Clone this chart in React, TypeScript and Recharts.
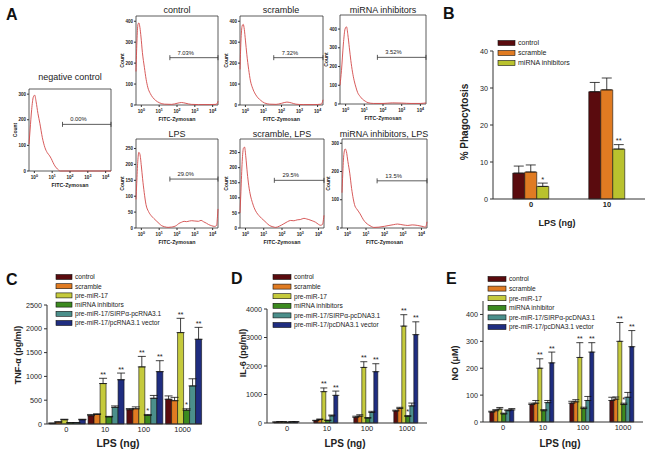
import React from "react";
import {
  LineChart,
  Line,
  XAxis,
  YAxis,
  ReferenceArea,
  ReferenceLine,
  BarChart,
  Bar,
  ErrorBar,
  LabelList,
} from "recharts";

const FONT = "'Liberation Sans', Arial, Helvetica, sans-serif";
const INK = "#222";
const AXIS = "#333";

// ---------- A: flow histograms, points are [log10 FITC-Zymosan, count] ----------
const logTicks = [0, 1, 2, 3, 4];
const logDomain = [-0.3, 4.3];

const negControlPts = [
  [-0.3, 105], [-0.24, 160], [-0.15, 240], [-0.06, 288], [0.02, 296], [0.1, 270],
  [0.2, 225], [0.31, 186], [0.45, 130], [0.59, 92], [0.72, 72], [0.86, 59],
  [0.95, 48], [1.05, 33], [1.15, 20], [1.24, 12], [1.35, 4], [1.45, 0], [2, 0],
  [3, 0], [4.3, 0],
];
const controlPts = [
  [-0.3, 160], [-0.25, 300], [-0.19, 385], [-0.14, 392], [-0.08, 370], [-0.02, 325],
  [0.06, 250], [0.17, 180], [0.27, 122], [0.36, 85], [0.5, 55], [0.64, 36], [0.8, 22],
  [1.0, 11], [1.3, 4], [1.7, 3], [2.0, 8], [2.25, 12], [2.5, 8], [2.8, 3], [3.2, 2],
  [3.8, 2], [4.2, 3], [4.27, 10], [4.3, 18],
];
const scramblePts = [
  [-0.3, 170], [-0.25, 300], [-0.18, 378], [-0.12, 385], [-0.06, 360], [0.0, 310],
  [0.08, 240], [0.18, 170], [0.28, 115], [0.4, 80], [0.55, 52], [0.7, 34], [0.85, 22],
  [1.05, 10], [1.35, 4], [1.7, 3], [2.0, 8], [2.3, 14], [2.55, 10], [2.8, 4], [3.2, 2],
  [3.8, 2], [4.2, 4], [4.27, 15], [4.3, 25],
];
const inhibitorPts = [
  [-0.3, 100], [-0.22, 180], [-0.12, 320], [-0.03, 400], [0.05, 412], [0.12, 370],
  [0.2, 300], [0.28, 232], [0.37, 170], [0.46, 124], [0.55, 90], [0.64, 62], [0.78, 40],
  [0.9, 26], [1.05, 15], [1.2, 7], [1.5, 3], [2.0, 3], [2.5, 6], [3.0, 5], [3.5, 3],
  [4.0, 3], [4.3, 6],
];
const lpsPts = [
  [-0.3, 90], [-0.26, 140], [-0.2, 210], [-0.14, 238], [-0.08, 232], [0.0, 195],
  [0.07, 155], [0.16, 112], [0.26, 74], [0.4, 52], [0.55, 39], [0.7, 30], [0.83, 23],
  [1.0, 14], [1.12, 8], [1.3, 4], [1.5, 2], [1.7, 3], [1.97, 8], [2.1, 14], [2.25, 18],
  [2.4, 21], [2.53, 20], [2.7, 22], [2.82, 23], [3.0, 22], [3.2, 21], [3.35, 24],
  [3.48, 20], [3.65, 15], [3.77, 11], [3.95, 7], [4.1, 5], [4.22, 8], [4.27, 35], [4.3, 60],
];
const scrambleLpsPts = [
  [-0.3, 50], [-0.25, 120], [-0.18, 220], [-0.11, 265], [-0.05, 268], [0.02, 235],
  [0.1, 182], [0.18, 140], [0.28, 106], [0.38, 84], [0.47, 68], [0.6, 52], [0.74, 41],
  [0.88, 32], [1.01, 25], [1.15, 17], [1.3, 9], [1.5, 4], [1.66, 2], [1.85, 6], [2.1, 14],
  [2.3, 21], [2.47, 25], [2.65, 24], [2.83, 27], [3.0, 28], [3.2, 32], [3.35, 30],
  [3.47, 28], [3.65, 24], [3.84, 19], [4.0, 12], [4.1, 9], [4.22, 12], [4.27, 28], [4.3, 42],
];
const inhibitorLpsPts = [
  [-0.3, 125], [-0.26, 190], [-0.2, 260], [-0.13, 280], [-0.06, 270], [0.02, 235],
  [0.12, 194], [0.22, 140], [0.31, 103], [0.4, 78], [0.49, 68], [0.58, 60], [0.68, 50],
  [0.78, 38], [0.86, 29], [1.0, 18], [1.14, 11], [1.3, 5], [1.42, 2], [1.7, 3], [2.0, 6],
  [2.24, 9], [2.5, 12], [2.7, 14], [3.0, 11], [3.26, 9], [3.5, 11], [3.8, 9], [4.1, 5],
  [4.22, 3], [4.27, 12], [4.3, 22],
];

// gate: [start (log10), count level, percentage]
const gateNeg = [1.58, 182, "0.00%"];
const gateControl = [1.6, 226, "7.03%"];
const gateScramble = [1.57, 226, "7.32%"];
const gateInhibitor = [1.7, 249, "3.52%"];
const gateLps = [1.6, 154, "29.0%"];
const gateScrambleLps = [1.58, 158, "29.5%"];
const gateInhibitorLps = [1.6, 167, "13.5%"];

// ---------- B: phagocytosis ----------
const phagoDoses = ["0", "10"];
const phagoNames = ["control", "scramble", "miRNA inhibitors"];
const phagoColors = ["#5a0b0e", "#e07b22", "#b9c22e"];
const phagoMean = [
  [7.0, 29.0],
  [7.3, 29.5],
  [3.4, 13.5],
];
const phagoErr = [
  [1.9, 2.5],
  [1.9, 3.2],
  [0.9, 1.2],
];
const phagoStars = [
  ["", ""],
  ["", ""],
  ["*", "**"],
];

// ---------- C-E: cytokines ----------
const lpsDoses = ["0", "10", "100", "1000"];
const sixColors = ["#5a0b0e", "#e07b22", "#c5ca3c", "#3c8a1f", "#4b8f8b", "#1f2d80"];
const namesC = [
  "control",
  "scramble",
  "pre-miR-17",
  "miRNA inhibitors",
  "pre-miR-17/SIRPα-pcRNA3.1",
  "pre-miR-17/pcRNA3.1 vector",
];
const namesD = [
  "control",
  "scramble",
  "pre-miR-17",
  "miRNA inhibitors",
  "pre-miR-17/SIRPα-pcDNA3.1",
  "pre-miR-17/pcDNA3.1 vector",
];
const namesE = [
  "control",
  "scramble",
  "pre-miR-17",
  "miRNA inhibitor",
  "pre-miR-17/SIRPα-pcDNA3.1",
  "pre-miR-17/pcDNA3.1 vector",
];

const tnfMean = [
  [15, 175, 300, 520],
  [40, 200, 320, 490],
  [90, 850, 1200, 1920],
  [25, 150, 180, 290],
  [25, 350, 540, 800],
  [90, 930, 1100, 1780],
];
const tnfErr = [
  [5, 25, 25, 70],
  [8, 15, 40, 70],
  [10, 110, 220, 300],
  [5, 10, 20, 30],
  [5, 30, 60, 150],
  [10, 140, 230, 250],
];
const tnfStars = [
  ["", "", "", ""],
  ["", "", "", ""],
  ["", "**", "**", "**"],
  ["", "", "*", "*"],
  ["", "", "", ""],
  ["", "**", "**", "**"],
];

const il6Mean = [
  [30, 80, 200, 420],
  [40, 120, 240, 510],
  [40, 1100, 1950, 3400],
  [20, 90, 170, 230],
  [40, 250, 370, 600],
  [40, 970, 1800, 3100],
];
const il6Err = [
  [5, 15, 40, 30],
  [5, 20, 50, 40],
  [5, 130, 200, 400],
  [5, 10, 20, 30],
  [5, 30, 40, 100],
  [5, 150, 280, 450],
];
const il6Stars = [
  ["", "", "", ""],
  ["", "", "", ""],
  ["", "**", "**", "**"],
  ["", "", "", "*"],
  ["", "", "", ""],
  ["", "**", "**", "**"],
];

const noMean = [
  [37, 65, 70, 80],
  [42, 70, 75, 85],
  [48, 200, 240, 300],
  [30, 42, 50, 65],
  [42, 72, 80, 92],
  [45, 220, 260, 280],
];
const noErr = [
  [3, 5, 7, 12],
  [4, 10, 8, 8],
  [6, 35, 55, 70],
  [3, 4, 5, 5],
  [3, 8, 15, 18],
  [5, 40, 35, 60],
];
const noStars = [
  ["", "", "", ""],
  ["", "", "", ""],
  ["", "**", "**", "**"],
  ["", "", "", "*"],
  ["", "", "", ""],
  ["", "**", "**", "**"],
];

// ---------- histogram pieces ----------
const LogTick = (props: any) => {
  const { x, y, payload } = props;
  return (
    <text x={x} y={y + 5} textAnchor="middle" fontSize={4.6} fontWeight={700} fill={INK} fontFamily={FONT}>
      10
      <tspan dy={-2.2} fontSize={3.6}>
        {payload.value}
      </tspan>
    </text>
  );
};

const GateMark = (p: any) => {
  const { x1, y1, x2, text } = p;
  return (
    <g>
      <line x1={x1} y1={y1} x2={x2} y2={y1} stroke={AXIS} strokeWidth={0.8} />
      <line x1={x1} y1={y1 - 2.5} x2={x1} y2={y1 + 2.5} stroke={AXIS} strokeWidth={0.8} />
      <line x1={x2} y1={y1 - 2.5} x2={x2} y2={y1 + 2.5} stroke={AXIS} strokeWidth={0.8} />
      <text x={x1 + (x2 - x1) * 0.33} y={y1 - 3} textAnchor="middle" fontSize={5.8} fill={INK} fontFamily={FONT}>
        {text}
      </text>
    </g>
  );
};

function Histogram({ pts, box, yMax, yTicks, gate }: any) {
  const data = pts.map(([x, y]: number[]) => ({ x, y }));
  const yw = 22;
  const pad = 3;
  const xh = 20;
  const W = yw + box.w + pad;
  const H = pad + box.h + xh;
  return (
    <div style={{ position: "absolute", left: box.left - yw, top: box.top - pad }}>
      <LineChart width={W} height={H} data={data} margin={{ top: pad, right: pad, bottom: 0, left: 0 }}>
        <XAxis
          type="number"
          dataKey="x"
          domain={logDomain}
          ticks={logTicks}
          axisLine={false}
          tickSize={2}
          tickMargin={1}
          stroke={AXIS}
          height={xh}
          tick={<LogTick />}
          label={{
            content: () => (
              <text x={yw + box.w / 2} y={pad + box.h + 16} textAnchor="middle" fontSize={5.3} fontWeight={700} fill={INK} fontFamily={FONT}>
                FITC-Zymosan
              </text>
            ),
          }}
        />
        <YAxis
          type="number"
          domain={[0, yMax]}
          ticks={yTicks}
          axisLine={false}
          tickSize={2}
          tickMargin={1}
          stroke={AXIS}
          width={yw}
          tick={{ fontSize: 4.5, fontWeight: 700, fill: INK, fontFamily: FONT }}
          label={{
            content: () => {
              const cx = 10;
              const cy = pad + box.h / 2;
              return (
                <text x={cx} y={cy} transform={`rotate(-90 ${cx} ${cy})`} textAnchor="middle" fontSize={5} fontWeight={700} fill={INK} fontFamily={FONT}>
                  Count
                </text>
              );
            },
          }}
        />
        <ReferenceArea x1={logDomain[0]} x2={logDomain[1]} y1={0} y2={yMax} fill="none" fillOpacity={0} stroke={AXIS} strokeWidth={0.8} ifOverflow="visible" />
        <Line type="monotone" dataKey="y" stroke="#d24848" strokeWidth={0.9} dot={false} isAnimationActive={false} />
        <ReferenceLine
          segment={[
            { x: gate[0], y: gate[1] },
            { x: logDomain[1], y: gate[1] },
          ]}
          ifOverflow="visible"
          shape={(p: any) => <GateMark {...p} text={gate[2]} />}
        />
      </LineChart>
    </div>
  );
}

// ---------- bar panel pieces ----------
function buildRows(doses: string[], means: number[][], errs: number[][], stars: string[][]) {
  return doses.map((dose, i) => {
    const row: any = { dose };
    means.forEach((m, s) => {
      row[`m${s}`] = m[i];
      row[`e${s}`] = [0, errs[s][i]];
      row[`t${s}`] = stars[s][i];
    });
    return row;
  });
}

const starLabel = (means: number[], errs: number[]) => (p: any) => {
  if (!p.value) return null;
  const vb = p.viewBox && p.viewBox.width != null ? p.viewBox : p;
  const i = p.index;
  const h = Math.abs(vb.height);
  const top = Math.min(vb.y, vb.y + vb.height);
  const errPx = (errs[i] / means[i]) * h;
  return (
    <text x={vb.x + vb.width / 2} y={top - errPx - 1.5} textAnchor="middle" fontSize={7.5} fill={INK} fontFamily={FONT}>
      {p.value}
    </text>
  );
};

function BarPanel(props: any) {
  const {
    pos, yAxisW, xAxisH, marginTop, doses, means, errs, stars, colors,
    yMax, yTicks, catGap, cap, xBold, yTitle, xTitle,
  } = props;
  const rows = buildRows(doses, means, errs, stars);
  return (
    <div style={{ position: "absolute", left: pos.left, top: pos.top }}>
      <BarChart
        width={pos.w}
        height={pos.h}
        data={rows}
        margin={{ top: marginTop, right: pos.right, bottom: 0, left: 0 }}
        barCategoryGap={catGap}
        barGap={0}
      >
        <XAxis
          dataKey="dose"
          tickLine={false}
          tickSize={2}
          tickMargin={1}
          stroke={AXIS}
          height={xAxisH}
          tick={{ fontSize: 7.5, fontWeight: xBold ? 700 : 400, fill: INK, fontFamily: FONT }}
          label={{
            content: () => (
              <text x={xTitle.x} y={xTitle.y} textAnchor="middle" fontSize={xTitle.size} fontWeight={700} fill={INK} fontFamily={FONT}>
                {xTitle.text}
              </text>
            ),
          }}
        />
        <YAxis
          type="number"
          domain={[0, yMax]}
          ticks={yTicks}
          tickSize={3}
          tickMargin={2}
          stroke={AXIS}
          width={yAxisW}
          tick={{ fontSize: 7.2, fill: INK, fontFamily: FONT }}
          label={{
            content: () => (
              <text x={yTitle.x} y={yTitle.y} transform={`rotate(-90 ${yTitle.x} ${yTitle.y})`} textAnchor="middle" fontSize={yTitle.size} fontWeight={700} fill={INK} fontFamily={FONT}>
                {yTitle.text}
              </text>
            ),
          }}
        />
        {means.map((m: number[], s: number) => (
          <Bar key={s} dataKey={`m${s}`} fill={colors[s]} stroke="#111" strokeWidth={0.6} isAnimationActive={false}>
            <ErrorBar dataKey={`e${s}`} width={cap} stroke="#111" strokeWidth={0.8} direction="y" isAnimationActive={false} />
            <LabelList dataKey={`t${s}`} content={starLabel(m, errs[s])} />
          </Bar>
        ))}
      </BarChart>
    </div>
  );
}

function Legend({ x, textX, y0, step, sw, names, colors, size }: any) {
  return (
    <g>
      {names.map((n: string, i: number) => (
        <g key={n}>
          <rect x={x} y={y0 + i * step - 2.5} width={sw} height={5} fill={colors[i]} stroke="#111" strokeWidth={0.6} />
          <text x={textX} y={y0 + i * step + 2.4} fontSize={size} fill={INK} fontFamily={FONT}>
            {n}
          </text>
        </g>
      ))}
    </g>
  );
}

const Letter = ({ x, y, c }: any) => (
  <text x={x} y={y} fontSize={16} fontWeight={700} fill="#111" fontFamily={FONT}>
    {c}
  </text>
);

const Title = ({ x, y, t }: any) => (
  <text x={x} y={y} textAnchor="middle" fontSize={9} fill={INK} fontFamily={FONT}>
    {t}
  </text>
);

export default function App() {
  const r1 = 16;
  const r2 = 139;
  return (
    <div style={{ position: "absolute", left: 0, top: 0, width: 651, height: 451, background: "#fff", overflow: "hidden" }}>
      <Histogram pts={negControlPts} box={{ left: 29, top: 89, w: 82, h: 82 }} yMax={320} yTicks={[0, 100, 200, 300]} gate={gateNeg} />
      <Histogram pts={controlPts} box={{ left: 136, top: r1, w: 82, h: 89 }} yMax={425} yTicks={[0, 100, 200, 300, 400]} gate={gateControl} />
      <Histogram pts={scramblePts} box={{ left: 240, top: r1, w: 83, h: 89 }} yMax={425} yTicks={[0, 100, 200, 300, 400]} gate={gateScramble} />
      <Histogram pts={inhibitorPts} box={{ left: 340, top: r1 - 1, w: 86, h: 89 }} yMax={475} yTicks={[0, 100, 200, 300, 400]} gate={gateInhibitor} />
      <Histogram pts={lpsPts} box={{ left: 136, top: r2, w: 82, h: 89 }} yMax={280} yTicks={[0, 50, 100, 150, 200, 250]} gate={gateLps} />
      <Histogram pts={scrambleLpsPts} box={{ left: 240, top: r2, w: 84, h: 89 }} yMax={295} yTicks={[0, 50, 100, 150, 200, 250]} gate={gateScrambleLps} />
      <Histogram pts={inhibitorLpsPts} box={{ left: 342, top: r2, w: 85, h: 89 }} yMax={315} yTicks={[0, 100, 200, 300]} gate={gateInhibitorLps} />

      <BarPanel
        pos={{ left: 448, top: 40, w: 201, h: 189, right: 4 }}
        yAxisW={45}
        xAxisH={30}
        marginTop={11}
        doses={phagoDoses}
        means={phagoMean}
        errs={phagoErr}
        stars={phagoStars}
        colors={phagoColors}
        yMax={40}
        yTicks={[0, 10, 20, 30, 40]}
        catGap="26%"
        cap={5}
        xBold
        yTitle={{ text: "% Phagocytosis", x: 20, y: 82, size: 10 }}
        xTitle={{ text: "LPS (ng)", x: 109, y: 186, size: 9 }}
      />
      <BarPanel
        pos={{ left: 0, top: 295, w: 205, h: 156, right: 3 }}
        yAxisW={47}
        xAxisH={27}
        marginTop={10}
        doses={lpsDoses}
        means={tnfMean}
        errs={tnfErr}
        stars={tnfStars}
        colors={sixColors}
        yMax={2500}
        yTicks={[0, 500, 1000, 1500, 2000, 2500]}
        catGap="6%"
        cap={4}
        yTitle={{ text: "TNF-α (pg/ml)", x: 21, y: 60, size: 9 }}
        xTitle={{ text: "LPS (ng)", x: 118, y: 152, size: 10.5 }}
      />
      <BarPanel
        pos={{ left: 222, top: 299, w: 208, h: 151, right: 3 }}
        yAxisW={45}
        xAxisH={27}
        marginTop={10}
        doses={lpsDoses}
        means={il6Mean}
        errs={il6Err}
        stars={il6Stars}
        colors={sixColors}
        yMax={4000}
        yTicks={[0, 1000, 2000, 3000, 4000]}
        catGap="17%"
        cap={3.5}
        yTitle={{ text: "IL-6 (pg/ml)", x: 24, y: 54, size: 9 }}
        xTitle={{ text: "LPS (ng)", x: 123, y: 148, size: 10 }}
      />
      <BarPanel
        pos={{ left: 440, top: 291, w: 207, h: 158, right: 4 }}
        yAxisW={43}
        xAxisH={27}
        marginTop={10}
        doses={lpsDoses}
        means={noMean}
        errs={noErr}
        stars={noStars}
        colors={sixColors}
        yMax={450}
        yTicks={[0, 100, 200, 300, 400]}
        catGap="17%"
        cap={3.5}
        yTitle={{ text: "NO (μM)", x: 18, y: 72, size: 9 }}
        xTitle={{ text: "LPS (ng)", x: 120, y: 156, size: 10 }}
      />

      <svg width={651} height={451} style={{ position: "absolute", left: 0, top: 0, pointerEvents: "none" }}>
        <Letter x={6} y={20} c="A" />
        <Letter x={443} y={19} c="B" />
        <Letter x={6} y={285} c="C" />
        <Letter x={231} y={284} c="D" />
        <Letter x={446} y={284} c="E" />

        <Title x={70} y={80} t="negative control" />
        <Title x={177} y={13} t="control" />
        <Title x={281} y={13} t="scramble" />
        <Title x={383} y={13} t="miRNA inhibitors" />
        <Title x={177} y={137} t="LPS" />
        <Title x={282} y={137} t="scramble, LPS" />
        <Title x={384} y={137} t="miRNA inhibitors, LPS" />

        <Legend x={498} textX={518} y0={43} step={10} sw={17} names={phagoNames} colors={phagoColors} size={7} />
        <Legend x={56} textX={75} y0={277} step={9.2} sw={16} names={namesC} colors={sixColors} size={6.6} />
        <Legend x={273} textX={294} y0={277} step={9.6} sw={18} names={namesD} colors={sixColors} size={6.6} />
        <Legend x={488} textX={509} y0={279} step={9.6} sw={18} names={namesE} colors={sixColors} size={6.6} />
      </svg>
    </div>
  );
}
